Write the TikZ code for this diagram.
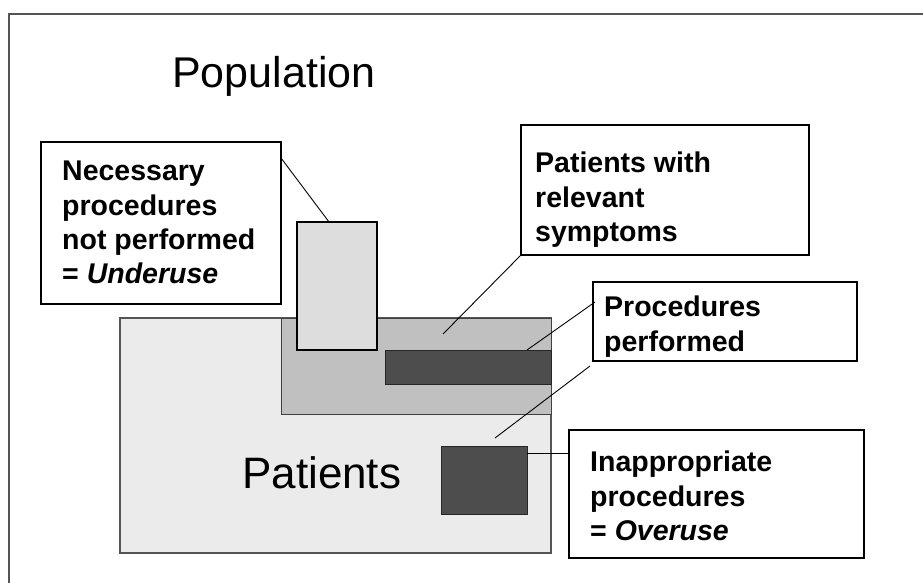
\documentclass[tikz,border=0pt]{standalone}
\usepackage{fontspec}
\setmainfont{Liberation Sans}
\usetikzlibrary{calc}
\definecolor{framegray}{HTML}{555555}
\definecolor{patfill}{HTML}{EBEBEB}
\definecolor{symfill}{HTML}{C0C0C0}
\definecolor{undfill}{HTML}{DDDDDD}
\definecolor{darkfill}{HTML}{4D4D4D}
\begin{document}
\begin{tikzpicture}[x=1pt,y=-1pt,
  region/.style={anchor=north west, inner sep=0pt, outer sep=0pt},
  callout/.style={draw=black, line width=1.4pt, fill=white, anchor=north west, inner sep=0pt, outer sep=0pt},
  boxlabel/.style={anchor=north west, inner sep=0pt, align=left, font=\fontsize{28.5}{34.3}\selectfont\bfseries},
  bigtext/.style={anchor=base west, inner sep=0pt},
  leader/.style={draw=black, line width=0.9pt}]
\useasboundingbox (0,0) rectangle (923,583);
\draw[framegray, line width=2pt] (8.5,583) -- (8.5,14) -- (923,14);

% regions
\node[region, draw=framegray, line width=1.4pt, fill=patfill, minimum width=431pt, minimum height=235pt] (pat) at (120,318) {};
\node[region, draw=black!75, line width=1pt, fill=symfill, minimum width=270pt, minimum height=96pt] (sym) at (281,318) {};
\node[region, draw=black, line width=1.4pt, fill=undfill, minimum width=80pt, minimum height=128pt] (und) at (297,222) {};
\node[region, draw=black!85, line width=1pt, fill=darkfill, minimum width=166pt, minimum height=34pt] (proc) at (385,350) {};
\node[region, draw=black!85, line width=1pt, fill=darkfill, minimum width=86pt, minimum height=68pt] (over) at (441,446) {};

% callout boxes
\node[callout, minimum width=240pt, minimum height=162pt] (bund) at (41,142) {};
\node[callout, minimum width=288pt, minimum height=130pt] (bsym) at (521,125) {};
\node[callout, minimum width=264pt, minimum height=79pt] (bproc) at (593,282) {};
\node[callout, minimum width=295pt, minimum height=128pt] (binap) at (569,430) {};

% texts
\node[boxlabel] (tund) at (62,161) {Necessary\\procedures\\not performed\\= \textit{Underuse}};
\node[boxlabel] (tsym) at (535,152) {Patients with\\relevant\\symptoms};
\node[boxlabel] (tproc) at (604,296) {Procedures\\performed};
\node[boxlabel] (tinap) at (590,451) {Inappropriate\\procedures\\= \textit{Overuse}};
\node[bigtext, font=\fontsize{43}{50}\selectfont] (pop) at (172,88) {Population};
\node[bigtext, font=\fontsize{44}{52}\selectfont] (ptxt) at (242,488) {Patients};

% leaders
\draw[leader] ($(bund.north east)+(0,16)$) -- ($(und.north west)+(32,0)$);
\coordinate (symend) at ($(sym.north west)+(162,16)$);
\draw[leader] (bsym.south west) -- (symend);
\draw[leader] ($(bproc.north west)+(2,20)$) -- ($(proc.north west)+(142,0)$);
\coordinate (ovend) at ($(over.north west)+(54,-8)$);
\draw[leader] ($(bproc.south west)+(-3,5)$) -- (ovend);
\draw[leader] ($(over.north east)+(0,7)$) -- ($(binap.north west)+(0,23)$);
\end{tikzpicture}
\end{document}
